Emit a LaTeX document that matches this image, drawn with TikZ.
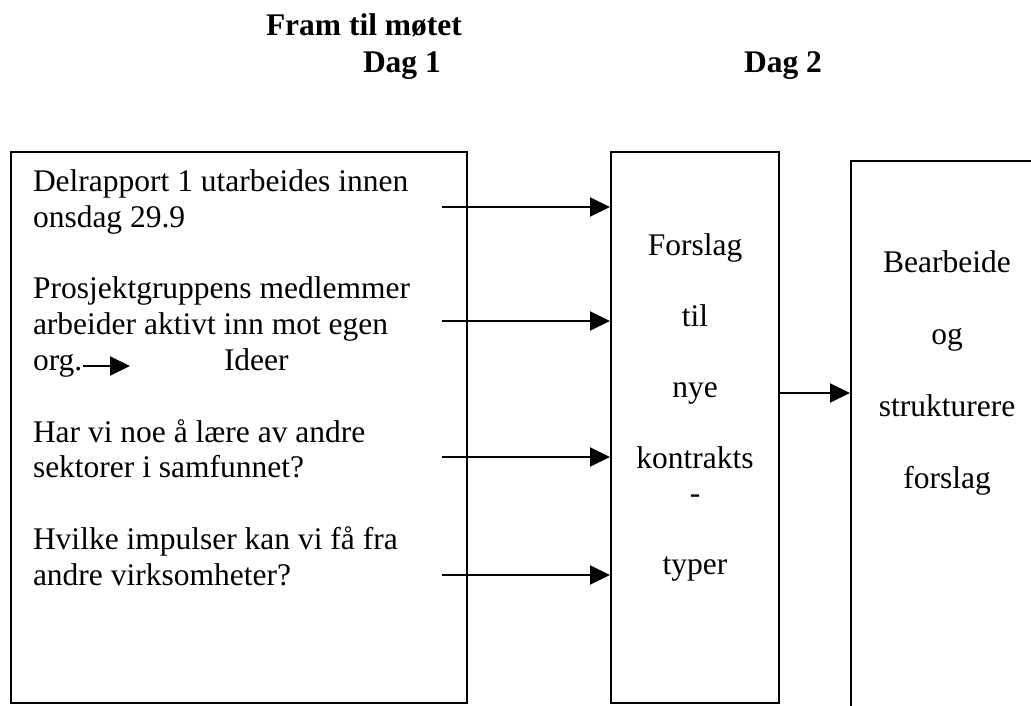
\documentclass[tikz,border=0pt]{standalone}
\usepackage{fontspec}
\setmainfont{Liberation Serif}
\usetikzlibrary{arrows.meta}

\begin{document}
\begin{tikzpicture}[x=1pt, y=-1pt, line width=2pt,
    font=\fontsize{31.5}{35.8}\selectfont,
    boks/.style={rectangle, draw, inner sep=0pt},
    linje/.style={anchor=base west, inner sep=0pt},
    tittel/.style={linje, font=\fontsize{31.5}{35.8}\selectfont\bfseries},
    ord/.style={anchor=base, inner sep=0pt},
    pil/.style={-{Triangle[length=20pt, width=19pt]}}]
  \useasboundingbox (0,0) rectangle (1031,706);
  \clip (0,0) rectangle (1031,706);
  % headings:
  \node [tittel] (fram) at (265,36) {Fram til møtet};
  \node [tittel] (dag1) at (362,73) {Dag 1};
  \node [tittel] (dag2) at (743,73) {Dag 2};
  % the three boxes:
  \node [boks, minimum width=456pt, minimum height=551pt] (plan) at (239,427.5) {};
  \node [boks, minimum width=168pt, minimum height=551pt] (forslag) at (695,427.5) {};
  \node [boks, minimum width=194pt, minimum height=569pt] (bearbeid) at (948,445.5) {};
  % text in the first box, one line each:
  \foreach \k/\tekst [count = \i] in {0/Delrapport 1 utarbeides innen, 1/onsdag 29.9,
      3/Prosjektgruppens medlemmer, 4/arbeider aktivt inn mot egen,
      7/Har vi noe å lære av andre, 8/sektorer i samfunnet?,
      10/Hvilke impulser kan vi få fra, 11/andre virksomheter?}
    \node [linje] (l\i) at (32,191.5+35.8*\k) {\tekst};
  \node [linje] (org) at (32,370.5) {org.};
  \node [linje] (ideer) at (223,370.5) {Ideer};
  \coordinate (ideerpil) at (130,366);
  \draw [pil] (org.east |- ideerpil) -- (ideerpil);
  % words in the other two boxes:
  \foreach \k/\tekst [count = \i] in {0/Forslag, 2/til, 4/nye, 6/kontrakts, 7/-, 9/typer}
    \node [ord] (f\i) at (695,255+35.5*\k) {\tekst};
  \foreach \tekst [count = \i] in {Bearbeide, og, strukturere, forslag}
    \node [ord] (b\i) at (947,200+72*\i) {\tekst};
  % edges:
  \foreach \y [count = \i] in {207, 321, 457, 575} {
    \coordinate (s\i) at (442,\y);
    \draw [pil] (s\i) -- (s\i -| forslag.west);
  }
  \draw [pil] (forslag.east |- 0,393) -- (bearbeid.west |- 0,393);
\end{tikzpicture}
\end{document}
